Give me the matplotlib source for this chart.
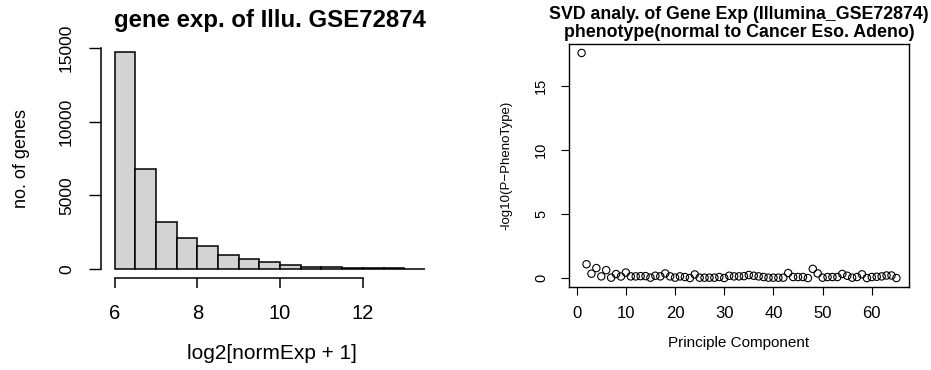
import matplotlib
matplotlib.use("Agg")
import matplotlib.pyplot as plt
import numpy as np

plt.rcParams['font.family'] = ['Liberation Sans', 'DejaVu Sans']

# ---- data: histogram ----
bin_left = [6.0, 6.5, 7.0, 7.5, 8.0, 8.5, 9.0, 9.5, 10.0, 10.5, 11.0, 11.5, 12.0, 12.5, 13.0]
gene_counts = [14730, 6760, 3200, 2065, 1520, 950, 660, 430, 270, 130, 110, 70, 30, 15, 10]
hist_xticks = [6, 8, 10, 12]
hist_yticks = [0, 5000, 10000, 15000]

# ---- data: SVD scatter ----
pc_index = list(range(1, 66))
neg_log10_p = [17.6, 1.08, 0.34, 0.78, 0.13, 0.62, 0.03, 0.31, 0.12, 0.43,
               0.13, 0.13, 0.15, 0.15, 0.03, 0.18, 0.13, 0.36, 0.13, 0.03,
               0.13, 0.08, 0.0, 0.28, 0.03, 0.03, 0.03, 0.03, 0.08, 0.0,
               0.18, 0.13, 0.13, 0.15, 0.24, 0.18, 0.13, 0.08, 0.03, 0.03,
               0.03, 0.03, 0.39, 0.08, 0.08, 0.08, 0.0, 0.72, 0.36, 0.03,
               0.08, 0.08, 0.08, 0.32, 0.18, 0.03, 0.08, 0.29, 0.0, 0.08,
               0.1, 0.13, 0.2, 0.2, 0.0]
svd_xticks = [0, 10, 20, 30, 40, 50, 60]
svd_yticks = [0, 5, 10, 15]

W, H = 931, 370
fig = plt.figure(figsize=(W / 100, H / 100), dpi=100)

def fax(x0, y0, x1, y1):
    # pixel box (top-left origin) -> figure coords
    return fig.add_axes([x0 / W, 1 - y1 / H, (x1 - x0) / W, (y1 - y0) / H])

# ---------------- left: histogram ----------------
ax1 = fax(101, 39, 429, 278)
ax1.bar(bin_left, gene_counts, width=0.5, align='edge',
        facecolor='#D3D3D3', edgecolor='black', linewidth=1.1)
ax1.set_xlim(5.67, 13.6)
ax1.set_ylim(-633, 15633)
for s in ['top', 'right']:
    ax1.spines[s].set_visible(False)
ax1.spines['left'].set_bounds(0, 15000)
ax1.spines['bottom'].set_bounds(6, 12)
ax1.spines['left'].set_linewidth(1.1)
ax1.spines['bottom'].set_linewidth(1.1)
ax1.set_xticks(hist_xticks)
ax1.set_yticks(hist_yticks)
ax1.tick_params(axis='x', length=7.5, width=1.1, labelsize=14.5, pad=11)
ax1.tick_params(axis='y', length=8.5, width=1.0, labelsize=12.5, pad=11)
ax1.set_yticklabels([str(v) for v in hist_yticks], rotation=90, va='center')
ax1.set_title('gene exp. of Illu. GSE72874', fontsize=17.3, fontweight='bold', pad=9, x=0.515)
ax1.set_xlabel('log2[normExp + 1]', fontsize=15, labelpad=16)
ax1.xaxis.set_label_coords(0.52, -0.275)
ax1.set_ylabel('no. of genes', fontsize=13, labelpad=21)

# ---------------- right: SVD scatter ----------------
ax2 = fax(569, 44, 909, 287)
ax2.scatter(pc_index, neg_log10_p, s=28, facecolors='none', edgecolors='black', linewidths=0.8)
ax2.set_xlim(-1.56, 67.56)
ax2.set_ylim(-0.70, 18.3)
for s in ax2.spines.values():
    s.set_linewidth(1.0)
ax2.set_xticks(svd_xticks)
ax2.set_yticks(svd_yticks)
ax2.tick_params(axis='x', length=6, width=0.8, labelsize=12, pad=8)
ax2.tick_params(axis='y', length=6, width=0.8, labelsize=10.5, pad=9)
ax2.set_yticklabels([str(v) for v in svd_yticks], rotation=90, va='center')
ax2.set_title('SVD analy. of Gene Exp (Illumina_GSE72874)\nphenotype(normal to Cancer Eso. Adeno)',
              fontsize=12.8, fontweight='bold', pad=5, linespacing=1.1)
ax2.set_xlabel('Principle Component', fontsize=11, labelpad=10.5)
ax2.set_ylabel('-log10(P\u2212PhenoType)', fontsize=9.5, labelpad=16)

fig.savefig('out.png', dpi=100)
